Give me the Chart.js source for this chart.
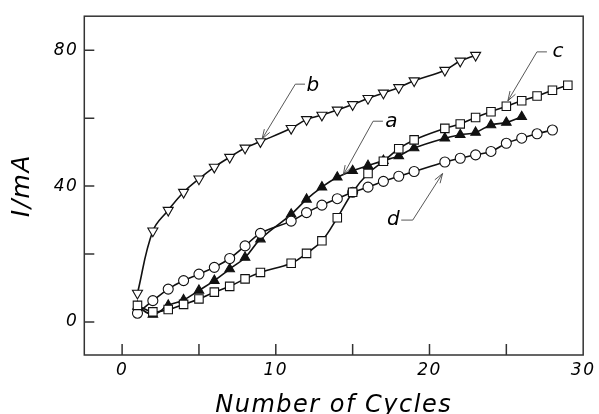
<!DOCTYPE html>
<html>
<head>
<meta charset="utf-8">
<script src="https://cdn.jsdelivr.net/npm/chart.js@4.4.1/dist/chart.umd.min.js"></script>
<style>
  html, body { margin: 0; padding: 0; background: #fff; }
  #wrap { width: 599px; height: 414px; }
</style>
</head>
<body>
<div id="wrap"><canvas id="chart"></canvas></div>
<script>
const cyclesA = [1, 2, 3, 4, 5, 6, 7, 8, 9, 11, 12, 13, 14, 15, 16, 17, 18, 19, 21, 22, 23, 24, 25, 26];
const currentA = [4.6, 2.2, 4.9, 6.5, 9.3, 12.2, 15.6, 19.0, 24.4, 31.7, 36.1, 39.7, 42.6, 44.5, 46.0, 47.5, 48.9, 51.2, 54.1, 55.1, 55.8, 58.0, 58.7, 60.4];

const cyclesB = [1, 2, 3, 4, 5, 6, 7, 8, 9, 11, 12, 13, 14, 15, 16, 17, 18, 19, 21, 22, 23];
const currentB = [8.5, 26.8, 32.9, 38.2, 42.1, 45.6, 48.5, 51.2, 53.1, 57.0, 59.6, 60.9, 62.4, 64.0, 65.8, 67.4, 69.0, 71.0, 74.1, 76.8, 78.5];

const cyclesC = [1, 2, 3, 4, 5, 6, 7, 8, 9, 11, 12, 13, 14, 15, 16, 17, 18, 19, 21, 22, 23, 24, 25, 26, 27, 28, 29];
const currentC = [4.9, 3.0, 3.7, 5.2, 6.8, 8.8, 10.5, 12.7, 14.6, 17.3, 20.2, 23.9, 30.7, 38.2, 43.7, 47.3, 51.0, 53.6, 57.0, 58.3, 60.2, 61.9, 63.5, 65.1, 66.5, 68.2, 69.7];

const cyclesD = [1, 2, 3, 4, 5, 6, 7, 8, 9, 11, 12, 13, 14, 15, 16, 17, 18, 19, 21, 22, 23, 24, 25, 26, 27, 28];
const currentD = [2.6, 6.3, 9.7, 12.2, 14.1, 16.1, 18.7, 22.4, 26.1, 29.7, 32.2, 34.4, 36.3, 38.2, 39.7, 41.4, 42.9, 44.3, 47.1, 48.2, 49.2, 50.2, 52.6, 54.1, 55.4, 56.5];

const xLabelTicks = [0, 10, 20, 30];
const xMarkTicks = [0, 5, 10, 15, 20, 25];
const yLabelTicks = [0, 40, 80];
const yMarkTicks = [0, 20, 40, 60, 80];

// curve labels with leader lines, in data units
const callouts = [
  { text: 'a', at: [17.12, 57.3], from: [16.97, 59.1], elbow: [16.33, 59.1], tip: [14.39, 43.3] },
  { text: 'b', at: [11.99, 68.0], from: [11.9, 70.0], elbow: [11.27, 70.0], tip: [9.11, 53.9] },
  { text: 'c', at: [28.0, 78.0], from: [27.64, 79.5], elbow: [26.99, 79.5], tip: [25.1, 65.1] },
  { text: 'd', at: [17.23, 28.7], from: [18.16, 30.0], elbow: [18.91, 30.0], tip: [20.85, 43.7] }
];

const pts = (xs, ys) => xs.map((x, i) => ({ x: x, y: ys[i] }));
const INK = '#111';
const FAMILY = '"DejaVu Sans", sans-serif';
const labelFont = { family: FAMILY, size: 17, style: 'italic' };

const frameAndTicks = {
  id: 'frameAndTicks',
  beforeDraw(chart) {
    // the original lettering is widely spaced
    chart.ctx.letterSpacing = '1.5px';
  },
  beforeDatasetsDraw(chart) {
    const { ctx, chartArea: a, scales } = chart;
    ctx.save();
    ctx.strokeStyle = '#333';
    ctx.lineWidth = 1.5;
    ctx.strokeRect(a.left, a.top, a.right - a.left, a.bottom - a.top);
    ctx.beginPath();
    xMarkTicks.forEach(v => {
      const px = scales.x.getPixelForValue(v);
      ctx.moveTo(px, a.bottom);
      ctx.lineTo(px, a.bottom - 11);
    });
    yMarkTicks.forEach(v => {
      const py = scales.y.getPixelForValue(v);
      ctx.moveTo(a.left, py);
      ctx.lineTo(a.left + 10, py);
    });
    ctx.stroke();
    ctx.restore();
  }
};

const calloutPlugin = {
  id: 'callouts',
  afterDatasetsDraw(chart) {
    const { ctx, scales } = chart;
    const px = p => [scales.x.getPixelForValue(p[0]), scales.y.getPixelForValue(p[1])];
    ctx.save();
    ctx.strokeStyle = '#444';
    ctx.lineWidth = 0.9;
    callouts.forEach(c => {
      const f = px(c.from), e = px(c.elbow), t = px(c.tip);
      ctx.beginPath();
      ctx.moveTo(f[0], f[1]);
      ctx.lineTo(e[0], e[1]);
      ctx.lineTo(t[0], t[1]);
      // open arrow head
      const ang = Math.atan2(e[1] - t[1], e[0] - t[0]);
      const len = 10;
      ctx.moveTo(t[0] + len * Math.cos(ang + 0.32), t[1] + len * Math.sin(ang + 0.32));
      ctx.lineTo(t[0], t[1]);
      ctx.lineTo(t[0] + len * Math.cos(ang - 0.32), t[1] + len * Math.sin(ang - 0.32));
      ctx.stroke();
      const a = px(c.at);
      ctx.fillStyle = '#000';
      ctx.font = 'italic 20px ' + FAMILY;
      ctx.textAlign = 'left';
      ctx.textBaseline = 'alphabetic';
      ctx.fillText(c.text, a[0], a[1]);
    });
    ctx.restore();
  }
};

const common = {
  borderColor: INK,
  borderWidth: 1.6,
  pointBorderColor: INK,
  pointBorderWidth: 1.1,
  tension: 0.4,
  fill: false
};

new Chart(document.getElementById('chart'), {
  type: 'line',
  data: {
    datasets: [
      Object.assign({ label: 'c', data: pts(cyclesC, currentC), pointStyle: 'rect', pointRadius: 6, pointBackgroundColor: '#fff' }, common),
      Object.assign({ label: 'd', data: pts(cyclesD, currentD), pointStyle: 'circle', pointRadius: 5, pointBackgroundColor: '#fff' }, common),
      Object.assign({ label: 'a', data: pts(cyclesA, currentA), pointStyle: 'triangle', pointRadius: 5.5, pointBackgroundColor: INK }, common),
      Object.assign({ label: 'b', data: pts(cyclesB, currentB), pointStyle: 'triangle', pointRotation: 180, pointRadius: 5.8, pointBackgroundColor: '#fff' }, common)
    ]
  },
  options: {
    responsive: true,
    maintainAspectRatio: false,
    animation: false,
    layout: { padding: { left: 0, right: 12, top: 13, bottom: 0 } },
    plugins: {
      legend: { display: false },
      tooltip: { enabled: false }
    },
    scales: {
      x: {
        type: 'linear',
        min: -2.46,
        max: 30,
        grid: { display: false, drawTicks: false },
        border: { display: false },
        afterBuildTicks: s => { s.ticks = xLabelTicks.map(v => ({ value: v })); },
        afterFit: s => { s.height = 59; },
        ticks: { font: labelFont, color: '#000', padding: 5, maxRotation: 0, autoSkip: false },
        title: {
          display: true,
          text: 'Number of Cycles',
          color: '#000',
          font: { family: FAMILY, size: 24, style: 'italic', lineHeight: 1 },
          padding: { top: 0, bottom: -4 }
        }
      },
      y: {
        type: 'linear',
        min: -9.7,
        max: 90,
        grid: { display: false, drawTicks: false },
        border: { display: false },
        afterBuildTicks: s => { s.ticks = yLabelTicks.map(v => ({ value: v })); },
        afterFit: s => { s.width = 84.3; },
        ticks: { font: labelFont, color: '#000', padding: 6, autoSkip: false },
        title: {
          display: true,
          text: 'I/mA',
          color: '#000',
          font: { family: FAMILY, size: 25, style: 'italic', lineHeight: 1 },
          padding: { top: 10, bottom: 0 }
        }
      }
    }
  },
  plugins: [frameAndTicks, calloutPlugin]
});
</script>
</body>
</html>
